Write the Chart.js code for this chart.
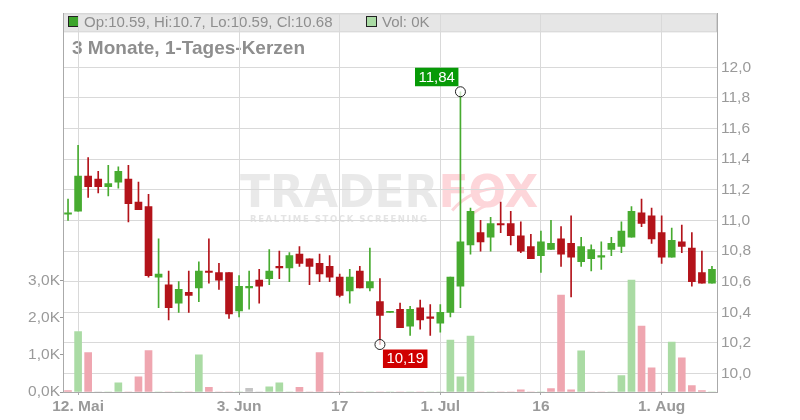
<!DOCTYPE html>
<html><head><meta charset="utf-8">
<script src="https://cdn.jsdelivr.net/npm/chart.js@4.4.1/dist/chart.umd.min.js"></script>
<style>html,body{margin:0;padding:0;background:#fff;}#wrap{width:800px;height:420px;position:relative;}</style>
</head><body><div id="wrap"><canvas id="c"></canvas></div>
<script>
const dates = ["09.05","12.05","13.05","14.05","15.05","16.05","19.05","20.05","21.05","22.05","23.05","26.05","27.05","28.05","29.05","30.05",
"02.06","03.06","04.06","05.06","06.06","09.06","10.06","11.06","12.06","13.06","16.06","17.06","18.06","19.06","20.06","23.06","24.06","25.06","26.06","27.06","30.06",
"01.07","02.07","03.07","07.07","08.07","09.07","10.07","11.07","14.07","15.07","16.07","17.07","18.07","21.07","22.07","23.07","24.07","25.07","28.07","29.07","30.07","31.07",
"01.08","04.08","05.08","06.08","07.08","08.08"];
const opens  = [11.04,11.06,11.29,11.27,11.22,11.25,11.27,11.12,11.09,10.63,10.58,10.46,10.53,10.56,10.67,10.66,10.66,10.41,10.56,10.61,10.62,10.70,10.69,10.78,10.75,10.72,10.70,10.63,10.54,10.67,10.56,10.47,10.40,10.42,10.31,10.43,10.37,10.33,10.40,10.57,10.84,10.92,10.89,10.98,10.98,10.90,10.83,10.77,10.81,10.88,10.85,10.73,10.75,10.76,10.81,10.83,10.89,11.05,11.03,10.92,10.76,10.86,10.82,10.66,10.59];
const highs  = [11.14,11.49,11.41,11.32,11.36,11.35,11.36,11.25,11.17,10.88,10.67,10.60,10.67,10.73,10.88,10.72,10.66,10.64,10.67,10.68,10.81,10.80,10.79,10.83,10.75,10.78,10.77,10.65,10.68,10.70,10.82,10.62,10.40,10.46,10.44,10.48,10.45,10.45,10.63,11.84,11.08,11.00,11.02,11.12,11.06,10.99,10.91,10.93,11.00,10.96,11.03,10.89,10.84,10.86,10.89,10.99,11.09,11.14,11.08,11.03,10.95,10.97,10.92,10.80,10.70];
const lows   = [11.00,11.06,11.15,11.18,11.16,11.21,10.99,11.07,10.63,10.43,10.35,10.40,10.40,10.47,10.59,10.55,10.36,10.37,10.42,10.46,10.58,10.62,10.60,10.70,10.58,10.60,10.60,10.50,10.46,10.56,10.54,10.19,10.40,10.30,10.25,10.29,10.25,10.27,10.37,10.43,10.78,10.80,10.80,10.92,10.84,10.79,10.75,10.66,10.81,10.70,10.50,10.70,10.67,10.68,10.77,10.79,10.89,10.96,10.85,10.72,10.76,10.79,10.57,10.59,10.59];
const closes = [11.05,11.29,11.22,11.22,11.24,11.32,11.11,11.07,10.64,10.65,10.43,10.55,10.51,10.67,10.66,10.61,10.39,10.57,10.57,10.57,10.67,10.69,10.77,10.72,10.70,10.65,10.63,10.51,10.63,10.56,10.60,10.38,10.40,10.30,10.42,10.35,10.36,10.40,10.63,10.86,11.06,10.86,10.98,10.97,10.90,10.80,10.75,10.86,10.85,10.78,10.76,10.83,10.81,10.77,10.85,10.93,11.06,10.98,10.88,10.76,10.87,10.83,10.60,10.59,10.68];
const volumes = [35,1630,1065,0,0,250,0,410,1120,0,0,0,0,1000,125,0,0,0,100,0,140,250,0,125,0,1065,
0,0,0,0,0,0,0,0,0,0,0,0,1400,410,1510,0,0,0,0,60,0,0,90,2615,60,1110,0,0,0,440,3020,1780,655,0,1350,920,170,35,0];
const closeBeforeFirst = 11.10;
const priceTicks = [10.0,10.2,10.4,10.6,10.8,11.0,11.2,11.4,11.6,11.8,12.0];
const volumeTicks = [0,1000,2000,3000];
const xTickDates = ["12.05","03.06","17.06","01.07","16.07","01.08"];
const xTickTexts = ["12. Mai","3. Jun","17","1. Jul","16","1. Aug"];

const GREEN = '#47ab30', RED = '#b3131a';
const VGREEN = '#aadba4', VRED = '#efa6b0', VGREY = '#c4c4c4';
const candleColor = opens.map((o,i) => closes[i] >= o ? GREEN : RED);
const volColor = closes.map((c,i) => {
  const p = i === 0 ? closeBeforeFirst : closes[i-1];
  return c > p ? VGREEN : (c < p ? VRED : VGREY);
});
function xLabel(i){ const k = xTickDates.indexOf(dates[i]); return k >= 0 ? xTickTexts[k] : ''; }
const FONT = "'Liberation Sans', Arial, sans-serif";
Chart.defaults.font.family = FONT;

const backdrop = {
  id: 'backdrop',
  beforeDraw(chart){
    const ctx = chart.ctx, a = chart.chartArea;
    ctx.save();
    // watermark
    ctx.font = "bold 44px 'DejaVu Sans'";
    ctx.textBaseline = 'alphabetic';
    ctx.fillStyle = '#e9e9e9';
    ctx.fillText('TRADER', 240, 207);
    const w = ctx.measureText('TRADER').width;
    ctx.fillStyle = '#fdd6da';
    ctx.fillText('FOX', 240 + w, 207);
    ctx.strokeStyle = '#fdd6da'; ctx.lineWidth = 3;
    ctx.beginPath(); ctx.arc(500, 250, 62, Math.PI*1.22, Math.PI*1.5); ctx.stroke();
    ctx.beginPath(); ctx.arc(505, 252, 50, Math.PI*1.25, Math.PI*1.45); ctx.stroke();
    const sub = 'REALTIME STOCK SCREENING';
    ctx.font = "bold 8.5px 'DejaVu Sans'";
    ctx.fillStyle = '#e4e4e4';
    let tw = 0; for (const ch of sub) tw += ctx.measureText(ch).width;
    const sp = (177 - tw) / (sub.length - 1);
    let x = 250; for (const ch of sub) { ctx.fillText(ch, x, 222); x += ctx.measureText(ch).width + sp; }
    // header band
    ctx.fillStyle = '#e6e6e6';
    ctx.fillRect(a.left, a.top, a.right - a.left, 18);
    ctx.strokeStyle = '#cfcfcf'; ctx.lineWidth = 1;
    ctx.strokeRect(a.left + 0.5, a.top + 0.5, a.right - a.left - 1, 18);
    const n = opens.length - 1;
    ctx.fillStyle = '#3da52c'; ctx.fillRect(68.5, 16.5, 10, 10);
    ctx.strokeStyle = '#222'; ctx.strokeRect(68.5, 16.5, 10, 10);
    ctx.fillStyle = '#8e8e8e'; ctx.font = '15px ' + FONT;
    ctx.fillText('Op:' + opens[n] + ', Hi:' + highs[n] + ', Lo:' + lows[n] + ', Cl:' + closes[n], 84, 27);
    ctx.fillStyle = VGREEN; ctx.fillRect(366.5, 16.5, 10, 10);
    ctx.strokeStyle = '#222'; ctx.strokeRect(366.5, 16.5, 10, 10);
    ctx.fillStyle = '#8e8e8e';
    ctx.fillText('Vol: ' + Math.round(volumes[n]/1000) + 'K', 382, 27);
    ctx.font = 'bold 19px ' + FONT;
    ctx.fillText('3 Monate, 1-Tages-Kerzen', 72, 54);
    ctx.restore();
  }
};

const markers = {
  id: 'markers',
  afterDatasetsDraw(chart){
    const ctx = chart.ctx, xs = chart.scales.x, ys = chart.scales.y;
    let hi = 0, lo = 0;
    highs.forEach((h,i) => { if (h > highs[hi]) hi = i; });
    lows.forEach((l,i) => { if (l < lows[lo]) lo = i; });
    ctx.save();
    ctx.font = '15px ' + FONT; ctx.textBaseline = 'middle';
    const draw = (i, v, up, color) => {
      const x = xs.getPixelForValue(i), y = ys.getPixelForValue(v);
      ctx.beginPath(); ctx.arc(x, y, 5, 0, Math.PI*2);
      ctx.fillStyle = 'rgba(255,255,255,0.7)'; ctx.fill();
      ctx.strokeStyle = '#222'; ctx.lineWidth = 1; ctx.stroke();
      const t = v.toFixed(2).replace('.', ',');
      const tw = ctx.measureText(t).width + 7, th = 18.5;
      const bx = up ? x - 2 - tw : x + 3;
      const by = up ? y - 5.5 - th : y + 5;
      ctx.fillStyle = color; ctx.fillRect(bx, by, tw, th);
      ctx.fillStyle = '#fff'; ctx.fillText(t, bx + 3.5, by + th/2 + 0.5);
    };
    draw(hi, highs[hi], true, '#079a07');
    draw(lo, lows[lo], false, '#d00000');
    ctx.restore();
  }
};

new Chart(document.getElementById('c'), {
  type: 'bar',
  data: {
    labels: dates,
    datasets: [
      { data: lows.map((l,i) => [l, highs[i]]), yAxisID: 'y', backgroundColor: candleColor, barThickness: 1, grouped: false, order: 2 },
      { data: opens.map((o,i) => [o, closes[i]]), yAxisID: 'y', backgroundColor: candleColor, barThickness: 7, minBarLength: 1, grouped: false, order: 1 },
      { data: volumes, yAxisID: 'yv', backgroundColor: volColor, barThickness: 7, grouped: false, order: 3 }
    ]
  },
  options: {
    responsive: true, maintainAspectRatio: false, animation: false,
    layout: { padding: { top: 12, left: 0, right: 0, bottom: 0 } },
    plugins: { legend: { display: false }, tooltip: { enabled: false } },
    scales: {
      x: {
        type: 'category', offset: true,
        grid: { offset: false, color: c => xLabel(c.index) ? '#d9d9d9' : 'rgba(0,0,0,0)', tickColor: c => xLabel(c.index) ? '#aaa' : 'rgba(0,0,0,0)', tickLength: 3 },
        border: { color: '#aaa' },
        ticks: { autoSkip: false, maxRotation: 0, minRotation: 0, padding: 2, color: '#9a9a9a', font: { size: 15.5, weight: 'bold' }, callback: (v, i) => xLabel(i) },
        afterFit: s => { s.height = 28; }
      },
      y: {
        position: 'right', min: 9.88, max: 12.352,
        afterBuildTicks: s => { s.ticks = priceTicks.map(v => ({ value: v })); },
        grid: { color: '#d9d9d9', drawTicks: false },
        border: { color: '#aaa' },
        ticks: { padding: 4, color: '#9a9a9a', font: { size: 15.5 }, callback: v => v.toFixed(1).replace('.', ',') },
        afterFit: s => { s.width = 83; }
      },
      yv: {
        position: 'left', min: 0, max: 10220,
        afterBuildTicks: s => { s.ticks = volumeTicks.map(v => ({ value: v })); },
        grid: { drawOnChartArea: false, color: '#999', tickLength: 3 },
        border: { color: '#aaa' },
        ticks: { padding: 0, color: '#9a9a9a', font: { size: 15.5 }, callback: v => (v/1000).toFixed(1).replace('.', ',') + 'K' },
        afterFit: s => { s.width = 63; }
      }
    }
  },
  plugins: [backdrop, markers]
});
</script></body></html>
